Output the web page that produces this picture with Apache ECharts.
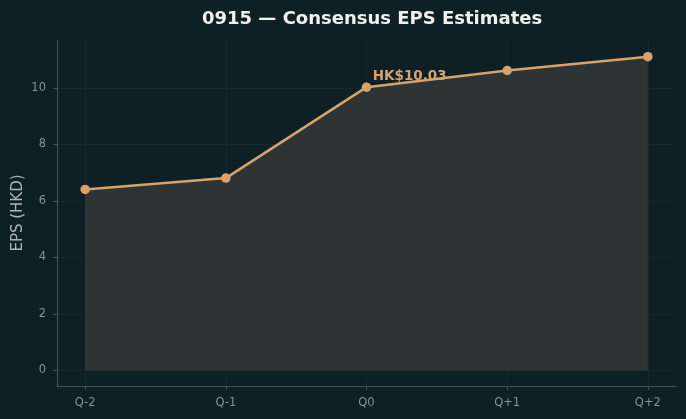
<!DOCTYPE html>
<html>
<head>
<meta charset="utf-8">
<script src="https://cdn.jsdelivr.net/npm/echarts@6/dist/echarts.min.js"></script>
<style>
  html, body { margin: 0; padding: 0; background: #0f1f26; }
  #main { width: 686px; height: 419px; }
</style>
</head>
<body>
<div id="main"></div>
<script>
// data
const quarters = ['Q-2', 'Q-1', 'Q0', 'Q+1', 'Q+2'];
const eps = [6.41, 6.81, 10.03, 10.62, 11.11];
const yTicks = [0, 2, 4, 6, 8, 10];
const xTicks = [0, 1, 2, 3, 4];

const chart = echarts.init(document.getElementById('main'));
const accent = '#d6a36d';
const axisCol = '#4a5054';
const gridCol = '#17272e';

const option = {
  backgroundColor: '#0f1f26',
  animation: false,
  title: {
    text: '0915 — Consensus EPS Estimates',
    left: 197, top: 5,
    textStyle: { color: '#f0f0ee', fontSize: 18, fontWeight: 'bold', fontFamily: 'DejaVu Sans' }
  },
  grid: { left: 57, right: 10, top: 40, bottom: 33, outerBoundsMode: 'none' },
  xAxis: {
    type: 'value', min: -0.2, max: 4.2,
    axisLine: { show: true, onZero: false, lineStyle: { color: axisCol } },
    axisTick: { show: true, length: 4, lineStyle: { color: axisCol }, customValues: xTicks },
    axisLabel: {
      color: '#8b9195', fontSize: 11.5, fontFamily: 'DejaVu Sans', margin: 11,
      customValues: xTicks,
      formatter: v => quarters[Math.round(v)] || ''
    },
    splitLine: { show: false }
  },
  yAxis: {
    type: 'value', min: -0.55, max: 11.7,
    name: 'EPS (HKD)', nameLocation: 'middle', nameGap: 31, nameMoveOverlap: false,
    nameTextStyle: { color: '#aeb3b6', fontSize: 15, fontFamily: 'DejaVu Sans' },
    axisLine: { show: true, onZero: false, lineStyle: { color: axisCol } },
    axisTick: { show: true, length: 4, lineStyle: { color: axisCol }, customValues: yTicks },
    axisLabel: { color: '#8b9195', fontSize: 11.5, fontFamily: 'DejaVu Sans', margin: 11, customValues: yTicks },
    splitLine: { show: false }
  },
  series: [
    {
      // faint grid lines, kept behind the filled area
      type: 'line', data: [], silent: true, z: 0,
      markLine: {
        silent: true, symbol: 'none', label: { show: false }, z: 0,
        lineStyle: { color: gridCol, type: 'solid', width: 1 },
        data: yTicks.map(v => ({ yAxis: v })).concat(xTicks.map(v => ({ xAxis: v })))
      }
    },
    {
      type: 'line',
      data: eps.map((v, i) => [i, v]),
      symbol: 'circle', symbolSize: 9.5,
      lineStyle: { color: accent, width: 2.5 },
      itemStyle: { color: accent, borderWidth: 0 },
      areaStyle: { color: '#2e3434', opacity: 1, origin: 0 },
      z: 5,
      label: { show: false },
      emphasis: { disabled: true }
    }
  ]
};
option.series[1].data[2] = {
  value: [2, eps[2]],
  label: {
    show: true, formatter: 'HK$' + eps[2].toFixed(2),
    position: [11, -13], align: 'left', verticalAlign: 'top',
    color: accent, fontSize: 13.5, fontWeight: 'bold', fontFamily: 'DejaVu Sans'
  }
};
chart.setOption(option);
</script>
</body>
</html>
